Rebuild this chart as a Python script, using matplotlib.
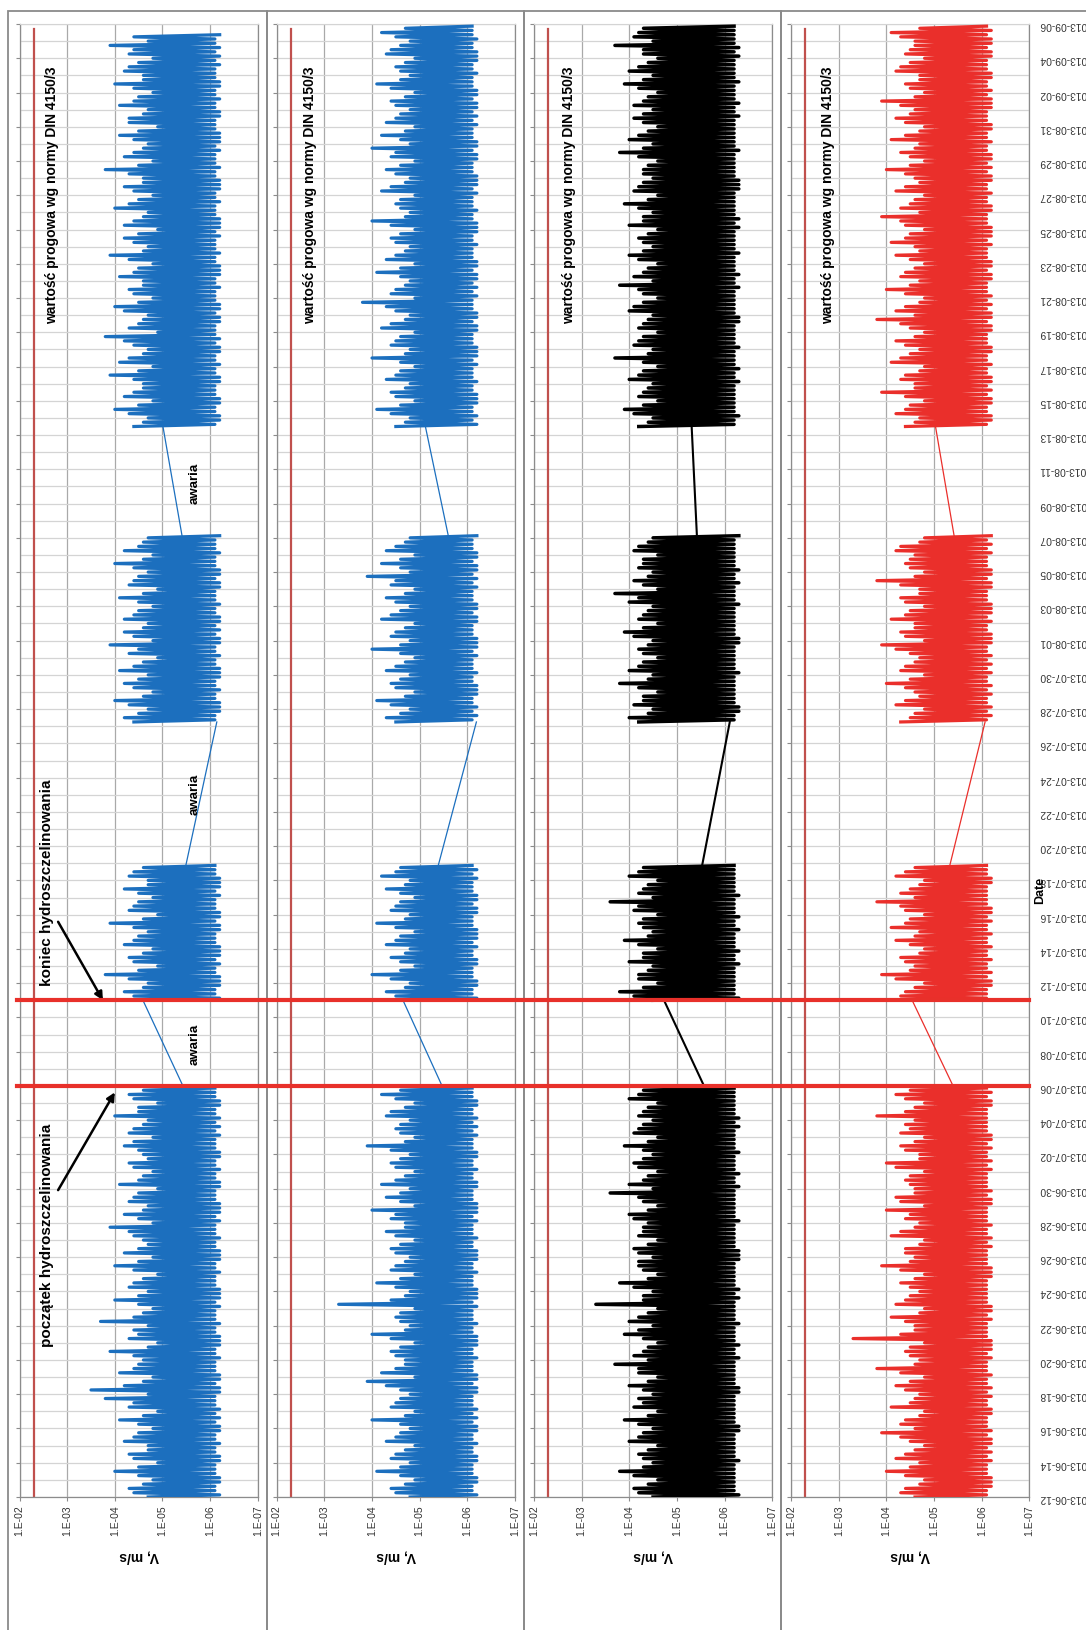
import numpy as np
import matplotlib
matplotlib.use("Agg")
import matplotlib.pyplot as plt
import matplotlib.dates as mdates
import matplotlib.transforms as mtransforms
from matplotlib.ticker import FixedLocator, NullLocator, FixedFormatter
from matplotlib.patches import Rectangle
from matplotlib.lines import Line2D

plt.rcParams['font.family'] = ['Liberation Sans', 'DejaVu Sans']

# ---- data -------------------------------------------------------------
date_start = '2013-06-12'
date_end = '2013-09-06'
v_ticks = [1e-2, 1e-3, 1e-4, 1e-5, 1e-6, 1e-7]
v_labels = ['1.E-02', '1.E-03', '1.E-04', '1.E-05', '1.E-06', '1.E-07']
threshold = 5e-3                      # DIN 4150/3
frac_start = '2013-07-06'             # poczatek hydroszczelinowania
frac_end = '2013-07-11'               # koniec hydroszczelinowania
# recording segments (between failures); every 6 h a peak (hi) then 3 h later a low (lo)
seg_start = ['2013-06-12T00:00', '2013-07-11T00:00', '2013-07-27T06:00', '2013-08-13T12:00']
step_days = 0.25

# values as -10*log10(V [m/s])
s1_hi_a = [47, 44, 43, 46, 48, 45, 40, 45, 49, 44, 43, 47, 47, 42, 44, 45, 48, 45, 41, 46, 49, 43, 44, 38,
           47, 35, 42, 46, 48, 41, 44, 45, 46, 44, 39, 47, 49, 43, 45, 44, 47, 37, 44, 46, 48, 45, 40, 45,
           47, 43, 44, 46, 49, 44, 40, 45, 48, 42, 45, 47, 46, 44, 43, 39, 48, 45, 42, 46, 47, 43, 44, 45,
           49, 41, 45, 46, 48, 44, 43, 47, 46, 45, 42, 44, 48, 43, 44, 46, 47, 40, 45, 45, 49, 44, 43, 46]
s1_lo_a = [62, 61, 61, 62, 62, 61, 61, 61, 62, 62, 61, 61, 62, 61, 61, 62, 62, 61, 62, 61, 62, 61, 61, 61,
           62, 62, 61, 62, 62, 61, 61, 61, 62, 61, 61, 62, 62, 62, 61, 61, 62, 61, 61, 61, 62, 61, 62, 62,
           62, 61, 61, 61, 62, 61, 61, 62, 62, 62, 61, 61, 62, 61, 61, 61, 62, 61, 62, 62, 62, 61, 61, 61,
           62, 62, 61, 61, 62, 61, 61, 62, 62, 61, 61, 61, 62, 61, 62, 61, 62, 61, 61, 62, 62, 61, 61, 61]
s1_hi_b = [48, 44, 42, 46, 47, 43, 38, 45, 49, 44, 43, 46, 48, 42, 44, 45,
           47, 44, 39, 46, 49, 43, 44, 45, 48, 45, 42, 47, 47, 43, 44, 46]
s1_lo_b = [62, 61, 61, 62, 62, 62, 61, 61, 62, 61, 62, 62, 62, 61, 61, 61,
           62, 62, 61, 62, 62, 61, 61, 61, 62, 61, 62, 62, 62, 61, 61, 61]
s1_hi_c = [44, 42, 45, 47, 43, 40, 46, 48, 44, 42, 45, 47, 41, 44, 46, 49, 43, 45, 39, 48, 44, 42,
           46, 47, 42, 44, 45, 48, 45, 41, 46, 49, 43, 44, 45, 47, 44, 40, 46, 48, 42, 45, 46, 47]
s1_lo_c = [61, 61, 62, 62, 62, 61, 61, 62, 61, 61, 62, 62, 62, 61, 61, 62, 61, 61, 62, 62, 61, 62,
           61, 62, 62, 61, 61, 62, 61, 61, 61, 62, 62, 61, 62, 62, 61, 61, 61, 62, 61, 61, 61, 62]
s1_hi_d = [44, 46, 47, 43, 40, 45, 48, 42, 44, 46, 46, 44, 39, 45, 48, 41, 43, 46, 47, 44, 42, 38, 49, 43,
           45, 46, 47, 42, 40, 45, 48, 44, 43, 46, 46, 41, 44, 45, 48, 43, 39, 46, 47, 44, 42, 45, 49, 42,
           44, 46, 47, 40, 43, 45, 48, 44, 42, 46, 46, 43, 38, 45, 48, 42, 44, 46, 47, 44, 41, 45, 49, 43,
           43, 46, 47, 41, 44, 45, 48, 44, 40, 46, 46, 42, 43, 45, 48, 43, 44, 39, 47, 44, 42, 45]
s1_lo_d = [61, 62, 62, 61, 61, 62, 62, 61, 61, 61, 62, 62, 61, 61, 62, 61, 61, 62, 62, 61, 62, 61, 61, 61,
           62, 62, 61, 62, 62, 61, 61, 61, 62, 61, 61, 62, 62, 62, 61, 61, 62, 61, 61, 61, 62, 61, 62, 62,
           62, 61, 61, 61, 62, 61, 61, 62, 62, 62, 61, 61, 62, 61, 61, 61, 62, 61, 62, 62, 62, 61, 61, 61,
           62, 62, 61, 61, 62, 61, 61, 62, 62, 61, 61, 61, 62, 61, 62, 61, 62, 61, 61, 62]

s2_hi_a = [48, 45, 44, 47, 49, 46, 41, 46, 48, 44, 45, 47, 49, 43, 45, 46, 48, 46, 40, 47, 49, 44, 45, 46,
           48, 46, 43, 39, 49, 42, 45, 47, 47, 45, 44, 46, 49, 44, 40, 47, 48, 46, 45, 46, 49, 33, 44, 47,
           48, 45, 41, 46, 49, 44, 45, 47, 48, 45, 44, 46, 49, 45, 43, 47, 47, 44, 45, 40, 49, 46, 43, 46,
           48, 42, 45, 47, 49, 45, 44, 46, 48, 44, 39, 47, 49, 46, 45, 46, 48, 43, 44, 47, 49, 45, 42, 46]
s2_lo_a = [62, 61, 61, 62, 62, 61, 61, 61, 62, 62, 61, 61, 62, 61, 61, 62, 62, 61, 62, 61, 62, 61, 61, 61,
           62, 62, 61, 62, 62, 61, 61, 61, 62, 61, 61, 62, 62, 62, 61, 61, 62, 61, 61, 61, 62, 61, 62, 62,
           62, 61, 61, 61, 62, 61, 61, 62, 62, 62, 61, 61, 62, 61, 61, 61, 62, 61, 62, 62, 62, 61, 61, 61,
           62, 62, 61, 61, 62, 61, 61, 62, 62, 61, 61, 61, 62, 61, 62, 61, 62, 61, 61, 62, 62, 61, 61, 61]
s2_hi_b = [49, 45, 43, 47, 48, 44, 40, 46, 49, 46, 44, 47, 48, 43, 45, 46,
           49, 45, 41, 47, 48, 44, 45, 46, 49, 46, 43, 47, 48, 42, 45, 46]
s2_lo_b = [62, 61, 61, 62, 62, 61, 61, 61, 62, 62, 61, 61, 62, 61, 62, 62,
           62, 61, 61, 61, 62, 62, 61, 62, 62, 61, 61, 61, 62, 61, 62, 61]
s2_hi_c = [45, 43, 46, 48, 44, 41, 47, 49, 45, 44, 46, 48, 43, 45, 47, 49, 46, 40, 46, 48, 44, 45,
           47, 49, 42, 44, 46, 48, 45, 43, 47, 49, 44, 45, 39, 48, 46, 42, 46, 49, 43, 45, 47, 48]
s2_lo_c = [61, 62, 61, 62, 61, 61, 62, 62, 62, 61, 61, 62, 61, 61, 61, 62, 61, 62, 62, 62, 61, 61,
           61, 62, 62, 61, 62, 62, 61, 61, 61, 62, 61, 62, 61, 62, 62, 61, 62, 62, 61, 61, 61, 62]
s2_hi_d = [45, 47, 48, 44, 41, 46, 49, 45, 44, 47, 48, 43, 45, 46, 49, 46, 40, 47, 48, 44, 45, 46, 49, 42,
           44, 47, 48, 45, 43, 38, 49, 44, 45, 47, 48, 46, 41, 46, 49, 43, 45, 47, 48, 45, 44, 46, 49, 44,
           40, 47, 48, 46, 45, 46, 49, 42, 44, 47, 48, 45, 43, 46, 49, 44, 45, 40, 48, 46, 42, 47, 49, 43,
           45, 46, 48, 45, 44, 47, 49, 44, 41, 46, 48, 46, 45, 47, 49, 43, 44, 46, 48, 45, 42, 47]
s2_lo_d = [62, 61, 62, 61, 61, 62, 62, 62, 61, 61, 62, 61, 61, 61, 62, 61, 62, 62, 62, 61, 61, 61, 62, 62,
           61, 62, 62, 61, 61, 61, 62, 61, 62, 61, 62, 62, 61, 62, 62, 61, 61, 61, 62, 61, 61, 62, 62, 62,
           61, 61, 62, 61, 61, 61, 62, 61, 62, 62, 62, 61, 61, 61, 62, 62, 61, 62, 62, 61, 61, 61, 62, 61,
           62, 61, 62, 62, 61, 62, 62, 61, 61, 61, 62, 61, 61, 62, 62, 62, 61, 61, 62, 61, 61, 61]

s3_hi_a = [45, 42, 41, 44, 46, 41, 38, 43, 45, 43, 42, 44, 46, 40, 42, 43, 45, 42, 39, 44, 46, 41, 43, 42,
           45, 43, 40, 44, 46, 42, 42, 37, 44, 41, 43, 44, 46, 43, 39, 42, 45, 40, 42, 44, 46, 33, 43, 43,
           45, 41, 38, 44, 46, 43, 42, 42, 45, 42, 41, 44, 46, 42, 43, 43, 44, 41, 40, 44, 46, 43, 42, 36,
           45, 40, 43, 44, 46, 42, 41, 43, 45, 43, 39, 44, 46, 41, 42, 43, 45, 42, 43, 44, 46, 40, 42, 43]
s3_lo_a = [63, 62, 62, 62, 62, 62, 62, 62, 63, 62, 62, 62, 62, 62, 62, 63, 63, 62, 62, 62, 62, 62, 62, 62,
           63, 63, 62, 62, 62, 62, 62, 62, 63, 62, 62, 63, 62, 62, 62, 62, 63, 62, 62, 62, 62, 62, 63, 62,
           63, 62, 62, 62, 62, 62, 62, 63, 63, 63, 62, 62, 62, 62, 62, 62, 63, 62, 62, 62, 62, 62, 62, 62,
           63, 62, 62, 63, 62, 62, 62, 62, 63, 62, 62, 62, 62, 62, 63, 62, 63, 62, 62, 62, 62, 62, 62, 62]
s3_hi_b = [45, 41, 38, 43, 46, 42, 42, 44, 45, 40, 43, 43, 46, 42, 39, 44,
           45, 43, 42, 43, 46, 41, 42, 36, 45, 42, 43, 44, 46, 40, 42, 43]
s3_lo_b = [63, 62, 62, 62, 62, 62, 62, 62, 63, 62, 62, 63, 62, 62, 62, 62,
           63, 62, 62, 63, 62, 62, 62, 62, 63, 62, 62, 62, 62, 62, 62, 62]
s3_hi_c = [42, 40, 44, 45, 41, 43, 43, 46, 42, 38, 44, 45, 40, 42, 43, 46, 43, 42, 44, 45, 41, 39,
           43, 46, 42, 43, 44, 45, 40, 42, 37, 46, 43, 41, 44, 45, 42, 43, 43, 46, 41, 42, 44, 45]
s3_lo_c = [62, 62, 63, 63, 62, 62, 62, 62, 62, 62, 62, 63, 62, 62, 62, 62, 62, 62, 63, 63, 62, 62,
           62, 62, 62, 62, 62, 63, 62, 62, 62, 62, 63, 62, 62, 63, 62, 62, 62, 62, 62, 62, 62, 63]
s3_hi_d = [42, 44, 45, 41, 39, 43, 46, 42, 43, 44, 45, 40, 42, 43, 46, 43, 37, 44, 45, 41, 42, 43, 46, 42,
           43, 44, 45, 40, 41, 43, 46, 43, 42, 38, 45, 41, 43, 44, 46, 42, 40, 43, 45, 43, 42, 44, 46, 40,
           43, 43, 45, 42, 39, 44, 46, 41, 42, 43, 45, 43, 43, 44, 46, 42, 38, 43, 45, 40, 42, 44, 46, 43,
           41, 43, 45, 41, 43, 44, 46, 42, 39, 43, 45, 40, 42, 44, 46, 43, 43, 37, 45, 41, 42, 43]
s3_lo_d = [62, 62, 63, 62, 62, 62, 62, 62, 62, 62, 63, 62, 62, 63, 62, 62, 62, 62, 63, 62, 62, 62, 62, 62,
           63, 63, 62, 62, 62, 62, 62, 62, 63, 62, 62, 63, 62, 62, 62, 62, 63, 62, 62, 62, 62, 62, 63, 62,
           63, 62, 62, 62, 62, 62, 62, 63, 63, 63, 62, 62, 62, 62, 62, 62, 63, 62, 62, 62, 62, 62, 62, 62,
           63, 62, 62, 63, 62, 62, 62, 62, 63, 62, 62, 62, 62, 62, 63, 62, 63, 62, 62, 62, 62, 62]

s4_hi_a = [46, 43, 44, 47, 48, 44, 40, 45, 47, 42, 44, 46, 48, 45, 43, 39, 46, 43, 44, 47, 48, 41, 45, 46,
           47, 44, 42, 45, 48, 43, 38, 46, 47, 45, 44, 45, 48, 33, 43, 46, 46, 44, 41, 47, 48, 42, 44, 45,
           47, 45, 43, 46, 48, 43, 39, 45, 46, 44, 44, 47, 48, 41, 43, 46, 47, 44, 45, 40, 48, 43, 42, 46,
           46, 45, 44, 45, 48, 42, 40, 47, 47, 44, 43, 46, 48, 43, 45, 44, 46, 38, 44, 46, 48, 44, 42, 45]
s4_lo_a = [61, 61, 62, 62, 62, 61, 61, 61, 62, 61, 62, 61, 62, 62, 61, 62, 61, 61, 61, 62, 62, 61, 61, 62,
           61, 62, 61, 61, 62, 61, 61, 61, 62, 61, 62, 62, 62, 61, 61, 61, 61, 62, 61, 62, 62, 61, 61, 61,
           61, 61, 61, 62, 62, 62, 61, 61, 61, 61, 62, 61, 62, 61, 61, 62, 61, 61, 61, 61, 62, 62, 61, 62,
           61, 61, 61, 61, 62, 61, 62, 61, 61, 62, 61, 62, 62, 61, 61, 61, 61, 61, 61, 62, 62, 61, 62, 61]
s4_hi_b = [47, 43, 44, 46, 48, 42, 39, 45, 46, 44, 43, 47, 48, 45, 42, 46,
           47, 41, 44, 45, 48, 44, 43, 38, 46, 43, 45, 47, 48, 42, 44, 46]
s4_lo_b = [61, 61, 61, 62, 62, 61, 62, 61, 61, 62, 61, 61, 62, 61, 61, 62,
           61, 61, 62, 61, 62, 62, 61, 61, 61, 61, 61, 62, 62, 61, 61, 61]
s4_hi_c = [43, 45, 46, 48, 42, 44, 47, 46, 44, 40, 45, 48, 43, 44, 46, 47, 45, 42, 39, 48, 44, 43,
           46, 46, 41, 44, 45, 48, 44, 43, 47, 47, 43, 38, 46, 48, 45, 44, 45, 46, 42, 43, 47, 48]
s4_lo_c = [61, 62, 61, 62, 61, 61, 62, 61, 62, 61, 61, 62, 61, 62, 61, 62, 61, 61, 62, 62, 62, 61,
           61, 62, 61, 62, 62, 62, 61, 61, 61, 62, 62, 61, 62, 62, 61, 61, 61, 62, 61, 62, 61, 62]
s4_hi_d = [44, 46, 47, 42, 44, 45, 48, 44, 39, 46, 46, 43, 44, 47, 48, 41, 43, 45, 47, 44, 42, 46, 48, 45,
           43, 38, 46, 42, 44, 47, 48, 44, 40, 45, 47, 43, 44, 46, 48, 45, 42, 47, 46, 41, 44, 45, 48, 44,
           43, 39, 47, 43, 45, 46, 48, 42, 44, 47, 46, 44, 40, 45, 48, 45, 43, 46, 47, 41, 44, 47, 48, 44,
           42, 45, 46, 43, 39, 46, 48, 45, 44, 47, 47, 42, 43, 45, 48, 44, 45, 46, 46, 43, 41, 47]
s4_lo_d = [61, 62, 62, 61, 61, 62, 62, 61, 62, 61, 62, 62, 61, 61, 62, 61, 61, 62, 62, 61, 61, 61, 62, 62,
           61, 62, 62, 61, 62, 61, 62, 61, 61, 61, 62, 62, 61, 62, 62, 61, 61, 61, 62, 61, 62, 62, 62, 61,
           61, 61, 62, 62, 61, 61, 62, 61, 61, 62, 62, 61, 62, 61, 62, 62, 61, 61, 62, 61, 61, 62, 62, 61,
           61, 61, 62, 62, 62, 61, 62, 61, 61, 62, 62, 61, 61, 61, 62, 62, 61, 62, 62, 61, 62, 61]

# log10(V) at the ends of the failure gaps: A end, B start, B end, C start, C end, D start
s1_links = [-5.45, -4.59, -5.49, -6.14, -5.41, -5.01]
s2_links = [-5.49, -4.65, -5.39, -6.19, -5.60, -5.12]
s3_links = [-5.59, -4.73, -5.53, -6.11, -5.42, -5.31]
s4_links = [-5.42, -4.54, -5.33, -6.07, -5.42, -5.03]

series = [
    ([s1_hi_a, s1_hi_b, s1_hi_c, s1_hi_d], [s1_lo_a, s1_lo_b, s1_lo_c, s1_lo_d], s1_links),
    ([s2_hi_a, s2_hi_b, s2_hi_c, s2_hi_d], [s2_lo_a, s2_lo_b, s2_lo_c, s2_lo_d], s2_links),
    ([s3_hi_a, s3_hi_b, s3_hi_c, s3_hi_d], [s3_lo_a, s3_lo_b, s3_lo_c, s3_lo_d], s3_links),
    ([s4_hi_a, s4_hi_b, s4_hi_c, s4_hi_d], [s4_lo_a, s4_lo_b, s4_lo_c, s4_lo_d], s4_links),
]
colors = ['#1c6fbe', '#1c6fbe', '#000000', '#ea2f2b']
trace_lw = [2.3, 2.3, 2.5, 2.3]
link_lw = [0.9, 0.9, 1.5, 0.9]
thr_text_x = [0.136, 0.140, 0.149, 0.155]


def dnum(s):
    return mdates.date2num(np.datetime64(s))


W, H = 1086.0, 1630.0
fig = plt.figure(figsize=(W / 100, H / 100), dpi=100)

y0, y1 = dnum(date_start), dnum(date_end)
days_major = np.arange(y0, y1 + 0.5, 2)
days_minor = np.arange(y0, y1 + 0.5, 1)

# panel frames
frame_x = [8.3, 266.6, 524.0, 781.0, 1095.0]
for i in range(4):
    fig.add_artist(Rectangle((frame_x[i] / W, -0.01), (frame_x[i + 1] - frame_x[i]) / W,
                             1.01 - 11 / H, transform=fig.transFigure, fill=False,
                             ec='#8a8a8a', lw=1.3, zorder=0))

axes = []
for i, (his, los, links) in enumerate(series):
    left = 19.5 + 257.2 * i
    ax = fig.add_axes([left / W, 1 - 1497 / H, 238.3 / W, 1473 / H])
    ax.patch.set_alpha(0)
    axes.append(ax)
    c = colors[i]

    ends = []
    for j in range(4):
        n = min(len(his[j]), len(los[j]))
        # peak at t, low half a step later -> line through hi, lo, hi, lo ...
        vals = np.empty(2 * n)
        vals[0::2] = his[j][:n]
        vals[1::2] = los[j][:n]
        t = dnum(seg_start[j]) + step_days / 2 * np.arange(2 * n)
        ax.plot(10.0 ** (-vals / 10.0), t, color=c, lw=trace_lw[i], zorder=3)
        ends.append((t[0], t[-1]))
    for j in range(3):
        ax.plot([10 ** links[2 * j], 10 ** links[2 * j + 1]], [ends[j][1], ends[j + 1][0]],
                color=c, lw=link_lw[i], zorder=3)

    ax.axvline(threshold, ymin=0, ymax=0.9966, color='#c0504d', lw=1.6, zorder=2)
    ax.text(thr_text_x[i], 0.884, 'wartość progowa wg normy DIN 4150/3', rotation=90,
            transform=ax.transAxes, ha='center', va='center', fontsize=10, fontweight='bold')

    ax.set_xscale('log')
    ax.set_xlim(v_ticks[0], v_ticks[-1])
    ax.set_ylim(y0, y1)
    ax.xaxis.set_major_locator(FixedLocator(v_ticks))
    ax.xaxis.set_major_formatter(FixedFormatter(v_labels))
    ax.xaxis.set_minor_locator(NullLocator())
    ax.yaxis.set_major_locator(FixedLocator(days_major))
    ax.yaxis.set_minor_locator(FixedLocator(days_minor))
    ax.yaxis.set_major_formatter(mdates.DateFormatter('%Y-%m-%d'))

    ax.set_axisbelow(True)
    ax.grid(axis='y', which='both', color='#d4d4d4', lw=0.9)
    ax.grid(axis='x', which='major', color='#a9a9a9', lw=0.9)
    for side in ['left', 'right', 'bottom']:
        ax.spines[side].set_color('#8c8c8c')
        ax.spines[side].set_linewidth(0.9)
    ax.spines['top'].set_color('#d4d4d4')

    ax.tick_params(axis='x', which='major', direction='out', length=3, color='#8c8c8c',
                   labelsize=7.5, labelrotation=90, pad=3, labelcolor='#333333')
    ax.tick_params(axis='y', which='major', direction='out', length=3, color='#8c8c8c',
                   left=True, right=False, labelleft=False, labelright=(i == 3),
                   labelsize=7.4, labelrotation=180, pad=4, labelcolor='#333333')
    ax.tick_params(axis='y', which='minor', length=0)

    ax.set_xlabel('V, m/s', rotation=180, fontsize=10, fontweight='bold', va='center')
    ax.xaxis.set_label_coords(0.5, -(1556 - 1497) / 1473)

ax4 = axes[3]
ax4.yaxis.set_label_position('right')
ax4.set_ylabel('Date', rotation=90, fontsize=9, fontweight='bold', va='center')
ax4.yaxis.set_label_coords(1.045, 0.412)

# hydrofracturing start / end lines across all panels
ax1 = axes[0]
tr = mtransforms.blended_transform_factory(fig.transFigure, ax1.transData)
for d in [frac_start, frac_end]:
    fig.add_artist(Line2D([17 / W, 1029 / W], [dnum(d), dnum(d)], transform=tr,
                          color='#e8302a', lw=3, zorder=5))

# annotations in first panel
bt = mtransforms.blended_transform_factory(ax1.transAxes, ax1.transData)
for d in ['2013-07-08T10:00', '2013-07-23T00:00', '2013-08-10T05:00']:
    ax1.text(0.736, dnum(d), 'awaria', rotation=90, transform=bt, ha='center', va='center',
             fontsize=9.5, fontweight='bold')
ax1.text(0.115, dnum('2013-06-27T07:00'), 'początek hydroszczelinowania', rotation=90,
         transform=bt, ha='center', va='center', fontsize=11, fontweight='bold')
ax1.text(0.115, dnum('2013-07-17T20:00'), 'koniec hydroszczelinowania', rotation=90,
         transform=bt, ha='center', va='center', fontsize=11, fontweight='bold')
arrow = dict(arrowstyle='-|>', color='black', lw=1.8, mutation_scale=12, shrinkA=0, shrinkB=0)
ax1.annotate('', xy=(1e-4, dnum('2013-07-05T15:00')), xytext=(10 ** -2.81, dnum('2013-06-29T22:00')),
             arrowprops=arrow, annotation_clip=False)
ax1.annotate('', xy=(10 ** -3.75, dnum('2013-07-11T00:00')), xytext=(10 ** -2.81, dnum('2013-07-15T14:00')),
             arrowprops=arrow, annotation_clip=False)

fig.savefig('out.png', dpi=100)
